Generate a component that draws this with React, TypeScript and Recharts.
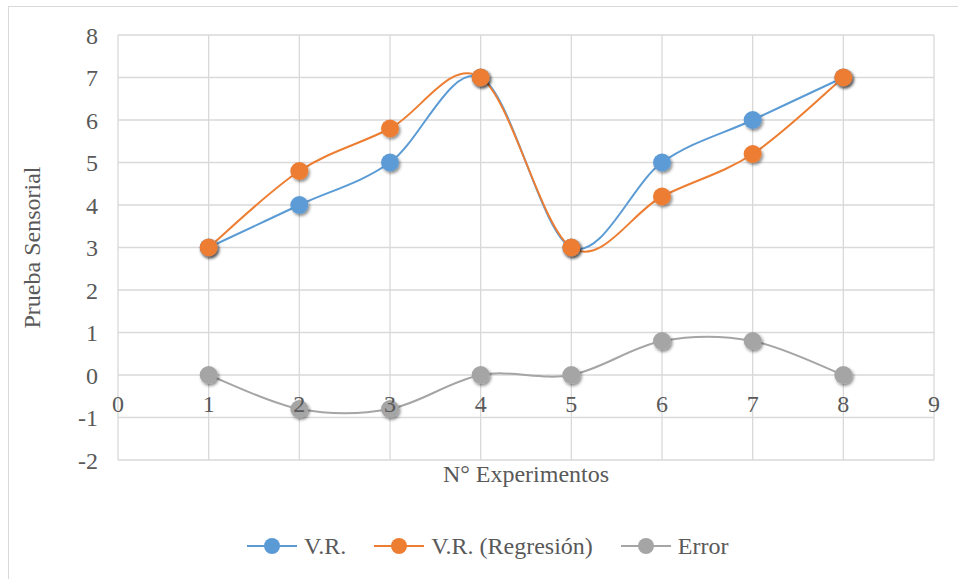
import { LineChart, Line, XAxis, YAxis, CartesianGrid } from 'recharts'

const experiments = [1, 2, 3, 4, 5, 6, 7, 8]
const vr = [3, 4, 5, 7, 3, 5, 6, 7]
const vrRegresion = [3, 4.8, 5.8, 7, 3, 4.2, 5.2, 7]
const errorVals = [0, -0.8, -0.8, 0, 0, 0.8, 0.8, 0]

const xTicks = [0, 1, 2, 3, 4, 5, 6, 7, 8, 9]
const yTicks = [-2, -1, 0, 1, 2, 3, 4, 5, 6, 7, 8]

const data = experiments.map((n, i) => ({
  n,
  vr: vr[i],
  reg: vrRegresion[i],
  err: errorVals[i],
}))

const W = 958
const H = 579
const PLOT_TOP = 35
const PLOT_H = 425
const Y_MIN = -2
const Y_MAX = 8
const FONT = '"Liberation Serif", "Times New Roman", serif'
const FS = 24
const TEXT = '#595959'
const GRID = '#d9d9d9'

const SERIES = [
  { key: 'vr', name: 'V.R.', color: '#5B9BD5' },
  { key: 'reg', name: 'V.R. (Regresión)', color: '#ED7D31' },
  { key: 'err', name: 'Error', color: '#A5A5A5' },
]

// Excel-like smoothed line (uniform Catmull-Rom as cubic beziers)
const excelCurve = (context: any) => {
  let pts: [number, number][] = []
  return {
    areaStart() {},
    areaEnd() {},
    lineStart() {
      pts = []
    },
    point(x: number, y: number) {
      pts.push([+x, +y])
    },
    lineEnd() {
      const n = pts.length
      if (!n) return
      context.moveTo(pts[0][0], pts[0][1])
      for (let i = 0; i < n - 1; i++) {
        const p0 = pts[Math.max(i - 1, 0)]
        const p1 = pts[i]
        const p2 = pts[i + 1]
        const p3 = pts[Math.min(i + 2, n - 1)]
        context.bezierCurveTo(
          p1[0] + (p2[0] - p0[0]) / 6,
          p1[1] + (p2[1] - p0[1]) / 6,
          p2[0] - (p3[0] - p1[0]) / 6,
          p2[1] - (p3[1] - p1[1]) / 6,
          p2[0],
          p2[1],
        )
      }
    },
  }
}

// x labels sit under the y=0 line, like Excel's crossing axis
const zeroFromBottom = (PLOT_H * (0 - Y_MIN)) / (Y_MAX - Y_MIN)

const XTick = ({ x, y, payload }: any) => (
  <text
    x={x}
    y={y - zeroFromBottom + 35}
    textAnchor="middle"
    fill={TEXT}
    fontSize={FS}
    fontFamily={FONT}
  >
    {payload.value}
  </text>
)

const LegendItem = ({ name, color }: { name: string; color: string }) => (
  <div style={{ display: 'flex', alignItems: 'center', marginRight: 28 }}>
    <svg width={50} height={20} style={{ marginRight: 7 }}>
      <line x1={0} y1={10} x2={50} y2={10} stroke={color} strokeWidth={2} />
      <circle cx={25} cy={10} r={8} fill={color} />
    </svg>
    <span>{name}</span>
  </div>
)

export default function App() {
  return (
    <div style={{ position: 'absolute', left: 0, top: 0, width: W, height: H, background: '#fff' }}>
      <svg width={0} height={0} style={{ position: 'absolute' }}>
        <defs>
          <filter id="dotShadow" x="-50%" y="-50%" width="200%" height="200%">
            <feDropShadow dx={1.5} dy={2} stdDeviation={1.6} floodColor="#000" floodOpacity={0.45} />
          </filter>
        </defs>
      </svg>
      <div
        style={{
          position: 'absolute',
          left: 8,
          top: 6,
          width: W,
          height: H,
          border: `1.5px solid ${GRID}`,
        }}
      />
      <LineChart
        width={W}
        height={H}
        data={data}
        margin={{ top: PLOT_TOP, right: 24, left: 0, bottom: H - PLOT_TOP - PLOT_H - 40 }}
        style={{ position: 'absolute', left: 0, top: 0 }}
      >
        <CartesianGrid stroke={GRID} strokeWidth={1.3} />
        <XAxis
          dataKey="n"
          type="number"
          domain={[0, 9]}
          ticks={xTicks}
          axisLine={false}
          tickLine={false}
          tickSize={0}
          height={40}
          tick={<XTick />}
          label={{
            value: 'N° Experimentos',
            position: 'insideTop',
            offset: 5,
            fill: TEXT,
            fontSize: FS,
            fontFamily: FONT,
          }}
        />
        <YAxis
          type="number"
          domain={[Y_MIN, Y_MAX]}
          ticks={yTicks}
          width={118}
          axisLine={false}
          tickLine={false}
          tickSize={0}
          tickMargin={20}
          tick={{ fill: TEXT, fontSize: FS, fontFamily: FONT }}
          label={{
            value: 'Prueba Sensorial',
            angle: -90,
            position: 'insideLeft',
            offset: 31,
            fill: TEXT,
            fontSize: FS,
            fontFamily: FONT,
            style: { textAnchor: 'middle' },
          }}
        />
        {SERIES.map((s) => (
          <Line
            key={s.key}
            dataKey={s.key}
            name={s.name}
            type={excelCurve as any}
            stroke={s.color}
            strokeWidth={2}
            dot={{ r: 9, fill: s.color, stroke: s.color, strokeWidth: 0, filter: 'url(#dotShadow)' }}
            activeDot={false}
            isAnimationActive={false}
          />
        ))}
      </LineChart>
      <div
        style={{
          position: 'absolute',
          left: 247,
          top: 532,
          display: 'flex',
          fontFamily: FONT,
          fontSize: FS,
          color: TEXT,
          lineHeight: '28px',
        }}
      >
        {SERIES.map((s) => (
          <LegendItem key={s.key} name={s.name} color={s.color} />
        ))}
      </div>
    </div>
  )
}
